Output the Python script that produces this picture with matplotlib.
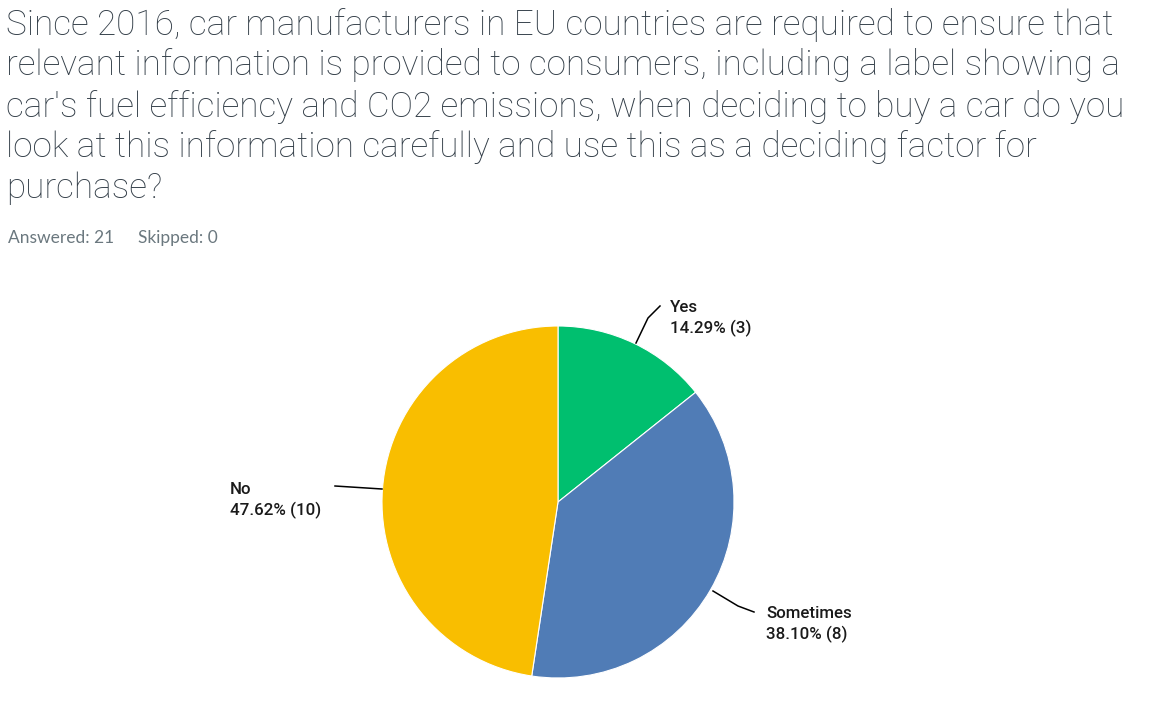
import matplotlib.pyplot as plt

# Survey answers
answers = ['Yes', 'Sometimes', 'No']
percents = [14.29, 38.10, 47.62]
counts = [3, 8, 10]
colors = ['#00BF6F', '#507CB6', '#F9BE00']

title_lines = [
    "Since 2016, car manufacturers in EU countries are required to ensure that",
    "relevant information is provided to consumers, including a label showing a",
    "car's fuel efficiency and CO2 emissions, when deciding to buy a car do you",
    "look at this information carefully and use this as a deciding factor for",
    "purchase?",
]
answered = 21
skipped = 0

W, H = 1160, 706
fig = plt.figure(figsize=(W / 100, H / 100), dpi=100)
ax = fig.add_axes([0, 0, 1, 1])

# pie in pixel coords (y measured from bottom)
cx, cy, r = 558, H - 502, 176
ax.pie(percents, colors=colors, startangle=90, counterclock=False,
       center=(cx, cy), radius=r,
       wedgeprops=dict(linewidth=0.8, edgecolor='white'))
ax.set_xlim(0, W)
ax.set_ylim(0, H)
ax.set_aspect('equal')
ax.axis('off')

# title, one line at a time to keep the spacing
for i, line in enumerate(title_lines):
    ax.text(6, H - 21 - 41 * i, line, ha='left', va='center_baseline',
            fontsize=25.3, family='Roboto', weight='light', color='#333e48')
ax.text(8, H - 238, f'Answered: {answered}', ha='left', va='center',
        fontsize=12.5, family='Lato', color='#6b787f')
ax.text(138, H - 238, f'Skipped: {skipped}', ha='left', va='center',
        fontsize=12.5, family='Lato', color='#6b787f')

# labels with leader lines
label_pos = [(670, 307), (766, 613), (230, 489)]
lines = [[(636, 343), (648, 318), (660, 306)],
         [(713, 591), (738, 606), (754, 612)],
         [(382, 489), (335, 486)]]
for name, p, n, (lx, ly), ln in zip(answers, percents, counts, label_pos, lines):
    xs = [pt[0] for pt in ln]
    ys = [H - pt[1] for pt in ln]
    ax.plot(xs, ys, color='black', lw=1.1)
    ax.text(lx, H - ly, name, ha='left', va='center', fontsize=12.2,
            family='Roboto', weight='medium', color='#1a1a1a')
    ax.text(lx, H - ly - 21, f'{p:.2f}% ({n})', ha='left', va='center',
            fontsize=12.2, family='Roboto', weight='medium', color='#1a1a1a')

fig.savefig('out.png', dpi=100)
